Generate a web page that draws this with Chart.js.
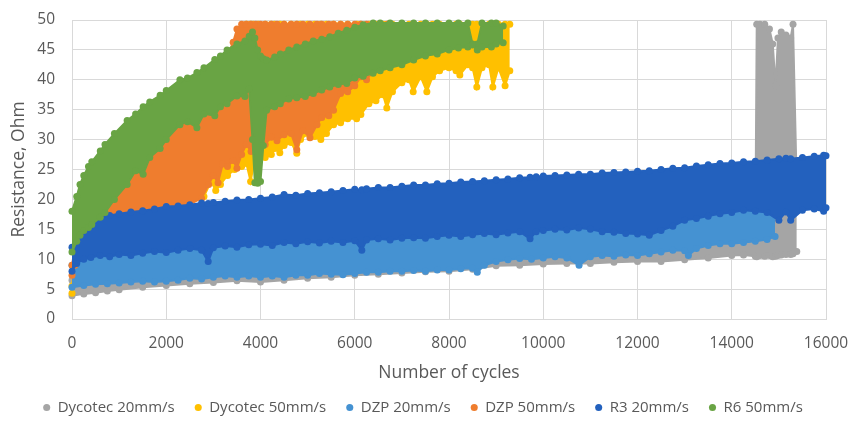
<!DOCTYPE html>
<html>
<head>
<meta charset="utf-8">
<script src="https://cdn.jsdelivr.net/npm/chart.js@4.4.0/dist/chart.umd.min.js"></script>
<style>
html,body{margin:0;padding:0;background:#ffffff;}
canvas{display:block;}
</style>
</head>
<body>
<canvas id="c" width="850" height="433"></canvas>
<script>
// ---- series names / colours ----
const seriesNames = ['Dycotec 20mm/s', 'Dycotec 50mm/s', 'DZP 20mm/s', 'DZP 50mm/s', 'R3 20mm/s', 'R6 50mm/s'];
const seriesColors = ['#A5A5A5', '#FFC000', '#4592D2', '#EF7D2E', '#2361BE', '#69A444'];

// ---- tick values ----
const xTickValues = [0, 2000, 4000, 6000, 8000, 10000, 12000, 14000, 16000];
const yTickValues = [0, 5, 10, 15, 20, 25, 30, 35, 40, 45, 50];

// ---- Dycotec 20mm/s : cycles, lower / upper edge of the scatter band (Ohm) ----
const dyc20_x = [0, 250, 500, 750, 1000, 1500, 2000, 2500, 3000, 3500, 4000, 4500, 5000, 5500, 6000, 6500, 7000, 7500, 8000, 8500, 9000, 9500, 10000, 10500, 11000, 11500, 12000, 12500, 13000, 13500, 14000, 14250, 14500, 14530, 14600, 14700, 14800, 14870, 14930, 14980, 15050, 15150, 15250, 15300, 15380];
const dyc20_lo = [3.9, 4.2, 4.4, 4.7, 4.9, 5.3, 5.6, 5.9, 6.1, 6.4, 6.2, 6.5, 6.8, 7.0, 7.3, 7.5, 7.7, 7.9, 8.0, 8.3, 8.9, 9.0, 9.2, 9.3, 9.3, 9.5, 9.6, 9.6, 9.9, 10.2, 10.6, 10.7, 10.5, 10.4, 10.6, 10.5, 10.6, 10.4, 10.5, 10.6, 10.7, 10.8, 10.8, 10.9, 11.3];
const dyc20_hi = [6.5, 7.0, 7.3, 7.6, 7.8, 8.2, 8.5, 8.8, 9.0, 9.3, 9.1, 9.4, 9.7, 9.9, 10.2, 10.4, 10.6, 10.8, 10.9, 11.2, 11.8, 12.0, 12.2, 12.3, 12.3, 12.5, 12.6, 12.6, 12.9, 13.2, 13.6, 13.7, 14.0, 49.3, 49.3, 49.3, 48.5, 46.0, 39.0, 47.0, 48.0, 47.5, 47.0, 49.3, 22.0];

// ---- Dycotec 50mm/s ----
const dyc50_x = [0, 80, 200, 500, 1000, 1500, 2000, 2500, 2800, 2950, 3050, 3150, 3300, 3450, 3600, 3700, 3790, 3850, 3950, 4100, 4230, 4300, 4410, 4500, 4650, 4770, 4850, 5000, 5150, 5280, 5400, 5550, 5700, 5850, 6040, 6130, 6300, 6450, 6600, 6680, 6800, 7000, 7150, 7240, 7400, 7530, 7650, 7800, 8000, 8150, 8230, 8400, 8500, 8590, 8700, 8850, 8930, 9050, 9190, 9290];
const dyc50_lo = [4.3, 9.0, 14.0, 16.0, 17.5, 18.5, 19.0, 19.5, 20.5, 23.0, 21.5, 22.5, 24.0, 25.0, 25.5, 26.0, 23.0, 25.5, 26.5, 27.0, 27.5, 28.5, 27.8, 29.0, 29.5, 27.7, 30.0, 31.0, 30.5, 30.0, 31.0, 32.5, 32.8, 33.5, 33.5, 34.2, 36.0, 36.5, 37.5, 35.3, 38.0, 39.5, 40.0, 38.0, 40.5, 38.0, 40.5, 41.5, 42.0, 41.5, 40.8, 42.5, 42.0, 38.8, 42.0, 42.5, 38.8, 42.0, 39.0, 41.5];
const dyc50_hi = [5.5, 12.0, 16.0, 18.5, 21.0, 22.0, 23.0, 24.0, 26.0, 28.0, 29.0, 30.0, 32.0, 36.0, 45.0, 49.3, 49.3, 49.3, 49.3, 49.3, 49.3, 49.3, 49.3, 49.3, 49.3, 49.3, 49.3, 49.3, 49.3, 49.3, 49.3, 49.3, 49.3, 49.3, 49.3, 49.3, 49.3, 49.3, 49.3, 49.3, 49.3, 49.3, 49.3, 49.3, 49.3, 49.3, 49.3, 49.3, 49.3, 49.3, 49.3, 49.3, 49.3, 49.3, 49.3, 49.3, 49.3, 49.3, 49.3, 49.3];

// ---- DZP 20mm/s ----
const dzp20_x = [0, 250, 500, 750, 1000, 1250, 1500, 1750, 2000, 2250, 2500, 2750, 3000, 3250, 3500, 3750, 4000, 4250, 4500, 4750, 5000, 5250, 5500, 5750, 6000, 6250, 6500, 6750, 7000, 7250, 7500, 7750, 8000, 8250, 8500, 8600, 8750, 9000, 9250, 9500, 9750, 10000, 10250, 10500, 10760, 11000, 11250, 11500, 11750, 12000, 12250, 12500, 12750, 13000, 13080, 13250, 13500, 13750, 14000, 14250, 14500, 14750, 14920];
const dzp20_lo = [5.3, 5.6, 5.8, 5.9, 6.0, 6.2, 6.3, 6.2, 6.3, 6.5, 6.8, 6.7, 7.0, 7.2, 7.0, 7.2, 7.0, 7.2, 7.0, 7.3, 7.3, 7.6, 7.5, 7.4, 7.6, 7.8, 7.8, 8.0, 8.0, 8.1, 8.0, 8.2, 8.2, 8.4, 8.5, 7.8, 9.0, 9.6, 9.9, 10.1, 10.0, 10.2, 10.4, 10.2, 9.0, 10.4, 10.6, 10.5, 10.7, 10.6, 10.9, 11.2, 11.5, 11.4, 10.6, 11.8, 12.3, 12.6, 12.6, 12.8, 13.0, 13.3, 13.8];
const dzp20_hi = [9.0, 11.5, 12.0, 12.3, 12.5, 12.6, 13.0, 13.2, 13.2, 13.5, 13.8, 13.5, 13.9, 14.2, 14.0, 14.4, 14.5, 14.3, 14.8, 14.6, 14.9, 14.7, 15.0, 14.8, 15.1, 15.2, 15.4, 15.2, 15.5, 15.6, 15.5, 15.8, 16.0, 15.8, 16.1, 16.2, 16.3, 16.1, 16.4, 16.6, 16.5, 16.8, 17.0, 16.9, 17.2, 17.0, 16.6, 16.5, 16.3, 16.2, 16.0, 16.8, 17.5, 18.5, 18.6, 18.8, 19.2, 19.6, 19.8, 20.2, 20.0, 19.8, 19.5];

// ---- DZP 50mm/s ----
const dzp50_x = [0, 60, 150, 300, 500, 750, 1000, 1250, 1500, 1750, 2000, 2250, 2500, 2750, 2900, 3000, 3100, 3200, 3300, 3420, 3500, 3600, 3700, 3800, 3900, 4000, 4100, 4230, 4350, 4500, 4650, 4770, 4900, 5050, 5200, 5300, 5450, 5550, 5700, 5850, 6000, 6130, 6250, 6400, 6550, 6700];
const dzp50_lo = [7.3, 9.0, 13.0, 16.0, 17.0, 17.3, 17.5, 17.8, 18.0, 18.3, 18.6, 18.9, 19.2, 20.2, 22.5, 24.0, 22.8, 25.9, 25.5, 26.5, 25.2, 27.5, 29.2, 28.0, 29.5, 30.0, 29.2, 30.4, 29.8, 30.8, 31.0, 28.3, 31.5, 30.3, 32.5, 33.7, 34.0, 34.9, 37.7, 38.0, 39.0, 40.5, 40.0, 41.5, 42.5, 44.0];
const dzp50_hi = [9.0, 12.0, 16.0, 22.0, 25.0, 28.0, 30.0, 32.0, 33.5, 35.0, 36.5, 38.0, 39.0, 40.5, 41.0, 42.0, 42.5, 43.5, 44.0, 46.3, 48.5, 49.3, 49.3, 49.3, 49.3, 49.3, 49.3, 49.3, 49.3, 49.3, 49.3, 49.3, 49.3, 49.3, 49.3, 49.3, 49.3, 49.3, 49.3, 49.3, 49.3, 49.3, 49.3, 49.3, 49.3, 49.3];

// ---- R3 20mm/s ----
const r3_x = [0, 100, 250, 400, 600, 800, 1000, 1250, 1500, 1750, 2000, 2250, 2500, 2750, 2890, 3000, 3250, 3500, 3750, 4000, 4250, 4500, 4750, 5000, 5250, 5500, 5750, 6000, 6150, 6250, 6500, 6750, 7000, 7250, 7500, 7750, 8000, 8250, 8500, 8750, 9000, 9250, 9500, 9720, 9850, 10000, 10250, 10500, 10750, 11000, 11250, 11500, 11750, 12000, 12250, 12500, 12750, 13000, 13250, 13500, 13750, 14000, 14250, 14500, 14750, 15000, 15150, 15250, 15500, 15750, 15950, 16000];
const r3_lo = [8.0, 9.3, 10.0, 10.3, 10.6, 10.4, 10.8, 10.6, 11.0, 11.3, 11.1, 11.5, 11.8, 11.5, 9.6, 11.9, 12.2, 12.0, 12.4, 12.5, 12.3, 12.8, 12.6, 12.9, 12.7, 13.0, 12.8, 13.1, 11.5, 13.2, 13.4, 13.2, 13.5, 13.6, 13.5, 13.8, 14.0, 13.8, 14.1, 14.3, 14.1, 14.4, 14.6, 13.4, 14.6, 14.8, 15.0, 14.9, 15.2, 15.0, 14.6, 14.5, 14.3, 14.2, 14.0, 14.8, 15.5, 16.5, 16.8, 17.2, 17.6, 17.8, 18.2, 18.0, 17.8, 16.5, 17.9, 16.5, 18.2, 18.4, 18.0, 18.6];
const r3_hi = [12.0, 14.0, 15.8, 16.3, 17.0, 17.3, 17.6, 17.9, 18.1, 18.4, 18.8, 18.9, 19.1, 19.4, 19.3, 19.5, 19.7, 19.9, 20.0, 20.2, 20.4, 20.8, 20.7, 21.0, 21.1, 21.3, 21.5, 21.7, 21.6, 21.8, 22.0, 22.0, 22.2, 22.4, 22.4, 22.6, 22.7, 22.9, 23.0, 23.1, 23.3, 23.4, 23.6, 23.7, 23.8, 23.9, 24.0, 24.1, 24.2, 24.2, 24.4, 24.5, 24.6, 24.7, 24.8, 25.0, 25.2, 25.3, 25.6, 25.8, 26.0, 26.1, 26.3, 26.4, 26.6, 26.8, 26.9, 26.8, 27.0, 27.2, 27.4, 27.3];

// ---- R6 50mm/s ----
const r6_x = [0, 100, 170, 250, 350, 420, 600, 700, 900, 1170, 1350, 1510, 1650, 1870, 2000, 2290, 2450, 2650, 2800, 3030, 3150, 3290, 3500, 3670, 3760, 3830, 3880, 3940, 4000, 4060, 4130, 4300, 4420, 4600, 4770, 4950, 5120, 5300, 5470, 5650, 5830, 6000, 6180, 6390, 6540, 6750, 7000, 7250, 7500, 7750, 8000, 8200, 8400, 8500, 8600, 8700, 8900, 9000, 9150];
const r6_lo = [11.2, 13.0, 14.0, 14.8, 15.3, 15.8, 17.0, 17.8, 20.0, 22.5, 24.8, 24.2, 27.0, 28.5, 30.0, 32.5, 33.0, 32.0, 34.3, 34.0, 35.5, 36.0, 37.3, 37.2, 38.5, 30.0, 22.8, 22.7, 23.0, 29.0, 34.9, 35.5, 36.0, 36.8, 37.0, 37.2, 37.7, 38.3, 38.8, 39.2, 39.4, 40.3, 40.6, 41.1, 41.5, 42.0, 42.5, 43.3, 44.0, 44.3, 45.0, 45.3, 45.5, 45.8, 45.0, 45.5, 45.5, 46.0, 46.2];
const r6_hi = [18.0, 20.5, 22.5, 24.0, 25.5, 26.3, 28.1, 29.2, 31.0, 33.2, 34.3, 35.5, 36.3, 37.4, 38.2, 40.0, 40.3, 41.2, 42.0, 43.4, 44.0, 45.0, 46.0, 46.5, 47.3, 48.0, 47.0, 45.0, 44.0, 43.5, 43.3, 43.8, 44.3, 45.0, 45.5, 46.0, 46.5, 46.8, 47.2, 47.8, 48.3, 48.8, 49.2, 49.5, 49.5, 49.5, 49.5, 49.5, 49.5, 49.5, 49.5, 49.5, 49.5, 46.0, 46.0, 49.5, 49.5, 49.5, 49.0];

// ---- assemble ----
const seriesX = [dyc20_x, dyc50_x, dzp20_x, dzp50_x, r3_x, r6_x];
const seriesLo = [dyc20_lo, dyc50_lo, dzp20_lo, dzp50_lo, r3_lo, r6_lo];
const seriesHi = [dyc20_hi, dyc50_hi, dzp20_hi, dzp50_hi, r3_hi, r6_hi];

const FONT = "'Open Sans', 'DejaVu Sans', sans-serif";
const TEXT = '#595959';
const GRID = '#D9D9D9';

const datasets = [];
seriesNames.forEach((name, k) => {
  const col = seriesColors[k];
  const common = {
    label: name,
    borderColor: col,
    backgroundColor: col,
    pointBackgroundColor: col,
    pointBorderColor: col,
    pointBorderWidth: 0,
    pointRadius: 3.5,
    pointHoverRadius: 3.5,
    pointStyle: 'circle',
    borderWidth: 2,
    tension: 0,
    order: seriesNames.length - k,
    clip: {left: 6, top: 6, right: 6, bottom: 0}
  };
  datasets.push(Object.assign({}, common, {
    data: seriesX[k].map((x, i) => ({x: x, y: seriesLo[k][i]})),
    fill: false
  }));
  datasets.push(Object.assign({}, common, {
    data: seriesX[k].map((x, i) => ({x: x, y: seriesHi[k][i]})),
    fill: '-1'
  }));
});

const shiftLegend = {
  id: 'shiftLegend',
  afterLayout(chart) {
    const lg = chart.legend;
    if (lg) { lg.left += 10; lg.right += 10; }
  }
};

new Chart(document.getElementById('c').getContext('2d'), {
  type: 'line',
  data: {datasets: datasets},
  plugins: [shiftLegend],
  options: {
    responsive: false,
    animation: false,
    devicePixelRatio: 1,
    events: [],
    layout: {padding: {left: 0, right: 24, top: 20, bottom: 8}},
    plugins: {
      tooltip: {enabled: false},
      legend: {
        position: 'bottom',
        labels: {
          usePointStyle: true,
          pointStyle: 'circle',
          boxWidth: 7,
          boxHeight: 5,
          padding: 20,
          color: TEXT,
          font: {family: FONT, size: 15},
          filter: (item) => item.datasetIndex % 2 === 0,
          sort: (a, b) => a.datasetIndex - b.datasetIndex
        }
      }
    },
    scales: {
      x: {
        type: 'linear',
        min: 0,
        max: 16000,
        afterBuildTicks: (s) => { s.ticks = xTickValues.map(v => ({value: v})); },
        afterFit: (s) => { s.height = 61; s.paddingLeft = 0; s.paddingRight = 0; },
        grid: {color: GRID, lineWidth: 1, drawTicks: false},
        border: {color: GRID},
        ticks: {color: TEXT, font: {family: FONT, size: 15.5}, padding: 15, maxRotation: 0, autoSkip: false, callback: (v) => String(v)},
        title: {display: true, text: 'Number of cycles', color: TEXT, font: {family: FONT, size: 17.5, lineHeight: 0.8}, padding: 0}
      },
      y: {
        type: 'linear',
        min: 0,
        max: 50,
        afterBuildTicks: (s) => { s.ticks = yTickValues.map(v => ({value: v})); },
        afterFit: (s) => { s.width = 72; s.paddingTop = 0; s.paddingBottom = 0; },
        grid: {color: GRID, lineWidth: 1, drawTicks: false},
        border: {color: GRID},
        ticks: {color: TEXT, font: {family: FONT, size: 15.5}, padding: 17, autoSkip: false, callback: (v) => String(v)},
        title: {display: true, text: 'Resistance, Ohm', color: TEXT, font: {family: FONT, size: 17.5, lineHeight: 1.2}, padding: {top: 9, bottom: 0}}
      }
    }
  }
});
</script>
</body>
</html>
